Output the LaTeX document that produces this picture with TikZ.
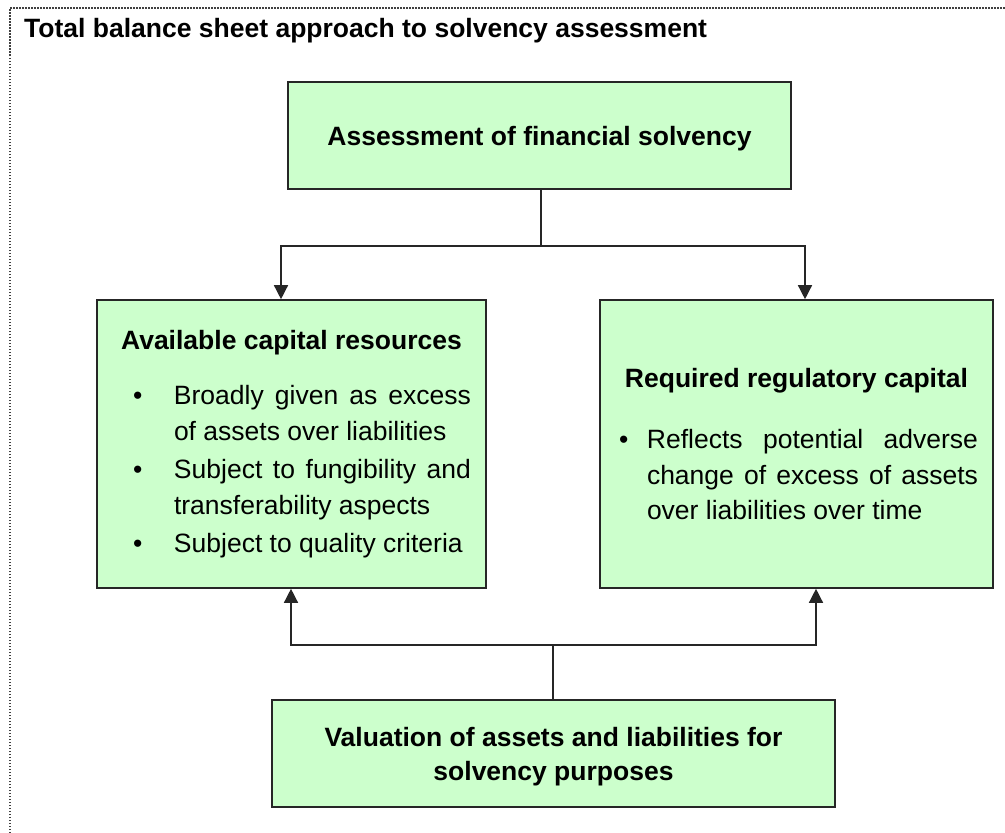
\documentclass[tikz,border=0pt]{standalone}
\usepackage{fontspec}
\setmainfont{Liberation Sans}
\usetikzlibrary{arrows.meta}
\setlength{\parindent}{0pt}
\hyphenpenalty=10000
\definecolor{boxgreen}{HTML}{CCFFCC}
\tikzset{
  box/.style={draw=black!85, line width=1.6pt, fill=boxgreen, inner sep=0pt},
  link/.style={draw=black!85, line width=1.4pt},
  arr/.style={link, -{Triangle[length=14pt,width=14pt]}},
  framedots/.style={draw=black!75, line width=1.3pt, dash pattern=on 1.5pt off 1.5pt}
}
% bullets of the two middle boxes
\newcommand{\bulA}[1]{\par\hangindent=62pt\hangafter=1\noindent\hspace*{21pt}\makebox[41pt][l]{\textbullet}#1\par}
\newcommand{\bulB}[1]{\par\hangindent=32pt\hangafter=1\noindent\hspace*{4pt}\makebox[28pt][l]{\textbullet}#1\par}

\begin{document}
\begin{tikzpicture}[x=1pt, y=-1pt, font=\fontsize{26.5}{35.5}\selectfont]
	\useasboundingbox (0,0) rectangle (1005,833);
	\draw [framedots] (10,833) -- (10,8) -- (1005,8);

	\node [anchor=base west, inner sep=0pt, font=\fontsize{26.5}{32}\selectfont\bfseries] (title) at (24,37) {Total balance sheet approach to solvency assessment};

	\node [box, minimum width=503pt, minimum height=107pt, text height=26pt, font=\fontsize{26.5}{32}\selectfont\bfseries] (assess) at (539.5,135.5) {Assessment of financial solvency};

	\node [box, minimum width=389pt, minimum height=288pt, text width=359pt, align=justify] (avail) at (291.5,444) {%
		\makebox[\linewidth]{\bfseries Available capital resources}\par\vspace{20pt}
		\bulA{Broadly given as excess of assets over liabilities}\vspace{3pt}
		\bulA{Subject to fungibility and transferability aspects}\vspace{3pt}
		\bulA{Subject to quality criteria}};

	\node [box, minimum width=393pt, minimum height=288pt, text width=363pt, align=justify] (req) at (796.5,444) {%
		\makebox[\linewidth]{\bfseries Required regulatory capital}\par\vspace{26pt}
		\bulB{Reflects potential adverse change of excess of assets over liabilities over time}};

	\node [box, minimum width=563pt, minimum height=107pt, align=center, font=\fontsize{26.5}{34}\selectfont\bfseries] (valu) at (553.5,753.5) {\rule{0pt}{25pt}Valuation of assets and liabilities for\\solvency purposes};

	% top split
	\coordinate (split) at (541,246);
	\draw [link] (split |- assess.south) -- (split);
	\draw [arr] (split) -| ([xshift=-10.5pt]avail.north);
	\draw [arr] (split) -| ([xshift=8.5pt]req.north);

	% bottom join
	\coordinate (join) at (553,645);
	\draw [link] (join |- valu.north) -- (join);
	\draw [arr] (join) -| ([xshift=-0.5pt]avail.south);
	\draw [arr] (join) -| ([xshift=19.5pt]req.south);
\end{tikzpicture}
\end{document}
